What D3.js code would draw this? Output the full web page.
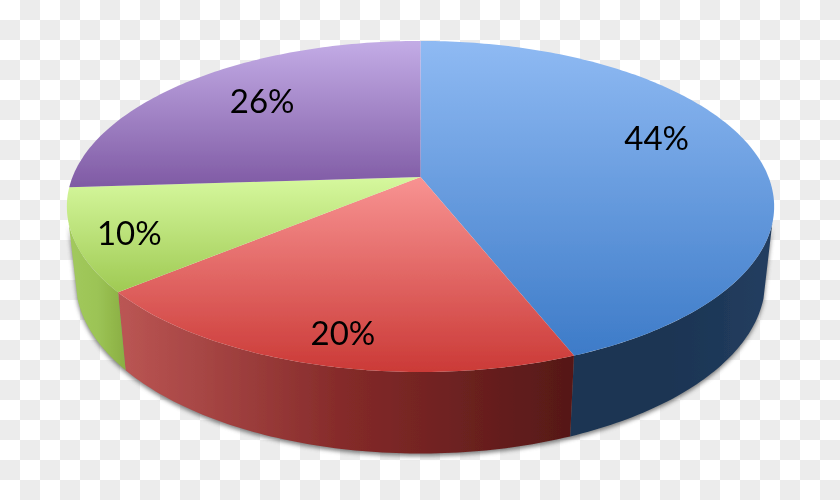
<!DOCTYPE html>
<html><head><meta charset="utf-8">
<script src="https://cdn.jsdelivr.net/npm/d3@7"></script>
<style>html,body{margin:0;padding:0;background:#fff}svg{display:block}</style>
</head><body><svg id="c" width="840" height="500"></svg>
<script>
const categories = ["Blue","Red","Green","Purple"];
const values = [44,20,10,26];
const labels = ["44%","20%","10%","26%"];
const topColors = [["#8fbaf3","#3d7bc8"],["#f89392","#cb3a37"],["#d6f89e","#9fca53"],["#c3ace6","#7f5aa4"]];
const wallColors = [["#1a3453","#1a3453","#243e60"],["#bb5654","#842a29","#551817"],["#a2c95d","#9cc456","#8aae42"],["#8aae42","#8aae42","#8aae42"]];
const labelDx = [-14,-3,-36,16], labelDy = [-18,21,8,-2];

const W=840,H=500;
const cx=420.5, cy=177, A=348, B=160.3, K=0.178;
const P=(a,t=1)=>{const X=Math.sin(a)*t,Y=-Math.cos(a)*t,w=1-K*Y;return [cx+A*X/w,cy+B*Y/w];};
const Down=([x,y])=>[cx+0.975*(x-cx), y+78+(y-292)*0.044];
const rad=d=>d*Math.PI/180;
const wallFrom=rad(106), wallTo=rad(254); // visible front of the drum
const svg=d3.select("#c"), defs=svg.append("defs");

const pat=defs.append("pattern").attr("id","chk").attr("width",40).attr("height",40).attr("patternUnits","userSpaceOnUse");
pat.append("rect").attr("width",40).attr("height",40).attr("fill","#fff");
pat.append("rect").attr("x",20).attr("y",0).attr("width",20).attr("height",20).attr("fill","#ececec");
pat.append("rect").attr("x",0).attr("y",20).attr("width",20).attr("height",20).attr("fill","#ececec");
svg.append("rect").attr("width",W).attr("height",H).attr("fill","url(#chk)");

const blur=defs.append("filter").attr("id","shadow").attr("x","-10%").attr("y","-10%").attr("width","120%").attr("height","120%");
blur.append("feGaussianBlur").attr("stdDeviation",2.2);
const soft=defs.append("filter").attr("id","soft").attr("x","-5%").attr("y","-5%").attr("width","110%").attr("height","110%");
soft.append("feGaussianBlur").attr("stdDeviation",0.55);

const arcs=d3.pie().sort(null).startAngle(0).endAngle(2*Math.PI)(values);
const line=d3.line();
const samples=(a0,a1)=>{const n=Math.max(8,Math.round((a1-a0)*60));return d3.range(n+1).map(i=>a0+(a1-a0)*i/n);};

categories.forEach((c,i)=>{
  const g=defs.append("linearGradient").attr("id","top"+i).attr("x1",0).attr("y1",0).attr("x2",0).attr("y2",1);
  g.append("stop").attr("offset",0).attr("stop-color",topColors[i][0]);
  g.append("stop").attr("offset",1).attr("stop-color",topColors[i][1]);
  const h=defs.append("linearGradient").attr("id","wall"+i).attr("x1",0).attr("y1",0).attr("x2",1).attr("y2",0);
  wallColors[i].forEach((col,j)=>h.append("stop").attr("offset",j/2).attr("stop-color",col));
});

const wallPath=(a0,a1)=>{
  const as=samples(a0,a1);
  return line([...as.map(a=>P(a)),...as.slice().reverse().map(a=>Down(P(a)))])+"Z";
};
// silhouette shadow
svg.append("path").attr("d",wallPath(wallFrom,wallTo)).attr("fill","#555").attr("opacity",0.75)
  .attr("transform","translate(0,2.5)").attr("filter","url(#shadow)");

const chart=svg.append("g").attr("filter","url(#soft)");
// walls: only the front part of the drum is visible
chart.selectAll("path.wall").data(arcs.filter(d=>d.startAngle<wallTo&&d.endAngle>wallFrom)).join("path").attr("class","wall")
  .attr("fill",d=>`url(#wall${d.index})`)
  .attr("d",d=>wallPath(Math.max(d.startAngle,wallFrom),Math.min(d.endAngle,wallTo)));
// top faces
chart.selectAll("path.top").data(arcs).join("path").attr("class","top")
  .attr("fill",(d,i)=>`url(#top${i})`)
  .attr("d",d=>line([[cx,cy],...samples(d.startAngle,d.endAngle).map(a=>P(a))])+"Z");
// labels
chart.selectAll("text").data(arcs).join("text")
  .attr("x",(d,i)=>P((d.startAngle+d.endAngle)/2,0.75)[0]+labelDx[i])
  .attr("y",(d,i)=>P((d.startAngle+d.endAngle)/2,0.75)[1]+labelDy[i])
  .attr("text-anchor","middle").attr("dominant-baseline","central")
  .attr("font-family","Lato, 'Open Sans', sans-serif").attr("font-size",33).attr("fill","#000")
  .text((d,i)=>labels[i]);
</script></body></html>
